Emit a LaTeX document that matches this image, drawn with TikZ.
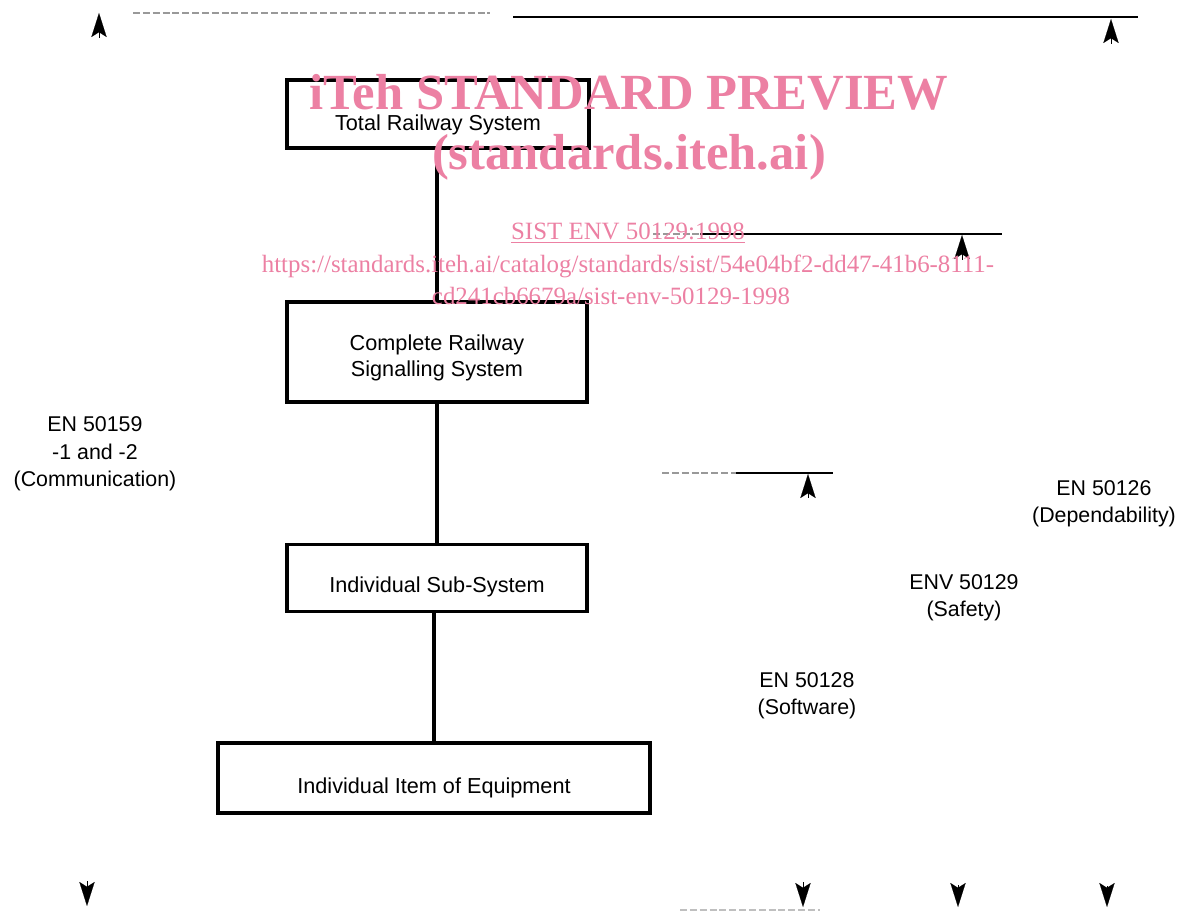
\documentclass[tikz,border=0pt]{standalone}
\usepackage{fontspec}
\setmainfont{Liberation Sans}
\newfontfamily\wmfont{Liberation Serif}
\usetikzlibrary{arrows.meta,positioning}
\definecolor{wmpink}{RGB}{236,128,163}
\newcommand\lowr[2][0.2cm]{\raisebox{-#1}[\height][\depth]{#2}}

\begin{document}
\begin{tikzpicture}[x=0.025cm, y=-0.025cm,
    sysbox/.style={draw, line width=2.6pt, inner sep=0pt, align=center,
      font=\fontsize{15.4}{18.4}\selectfont},
    stdlabel/.style={inner sep=0pt, align=center,
      font=\fontsize{15.2}{19.5}\selectfont},
    link/.style={line width=2.5pt},
    rangeline/.style={line width=1.3pt},
    faint/.style={line width=0.9pt, black!40, dash pattern=on 5pt off 2pt},
    tiphead/.style={line width=0.1pt,
      -{Stealth[length=0.6cm, width=0.38cm, inset=0.12cm]}},
    wmbig/.style={inner sep=0pt, anchor=base, text=wmpink,
      font=\wmfont\bfseries\fontsize{36}{40}\selectfont},
    wmsmall/.style={inner sep=0pt, anchor=base, text=wmpink,
      font=\wmfont\fontsize{17.7}{20}\selectfont}]
    \useasboundingbox (0,0) rectangle (1179,911);

    % system levels
    \node[sysbox, minimum width=7.55cm, minimum height=1.7cm] (total) at (438,114) {\lowr[0.27cm]{Total Railway System}};
    \node[sysbox, minimum width=7.5cm, minimum height=2.5cm] (complete) at (437,352) {\lowr[0.15cm]{Complete Railway}\\\lowr[0.15cm]{Signalling System}};
    \node[sysbox, minimum width=7.5cm, minimum height=1.675cm] (subsys) at (437,578) {\lowr[0.22cm]{Individual Sub-System}};
    \node[sysbox, minimum width=10.8cm, minimum height=1.75cm] (item) at (434,778) {\lowr[0.25cm]{Individual Item of Equipment}};

    \draw[link] (complete.north |- total.south) -- (complete.north);
    \draw[link] (complete.south) -- (subsys.north);
    \draw[link] (item.north |- subsys.south) -- (item.north);

    % standards
    \node[stdlabel] (comm) at (95,454) {EN 50159\\-1 and -2\\(Communication)};
    \node[stdlabel] (dep) at (1104,504) {EN 50126\\(Dependability)};
    \node[stdlabel] (safe) at (964,598) {ENV 50129\\(Safety)};
    \node[stdlabel] (soft) at (807,696) {EN 50128\\(Software)};

    % range lines
    \coordinate (commL) at (133,13);
    \coordinate (commR) at (490,13);
    \coordinate (depL) at (513,17);
    \coordinate (depR) at (1138,17);
    \coordinate (safeL) at (653,234);
    \coordinate (safeM) at (700,234);
    \coordinate (safeR) at (1002,234);
    \coordinate (softL) at (662,473);
    \coordinate (softM) at (736,473);
    \coordinate (softR) at (833,473);
    \coordinate (botL) at (680,910);
    \coordinate (botR) at (820,910);
    \draw[faint] (commL) -- (commR);
    \draw[rangeline] (depL) -- (depR);
    \draw[faint] (safeL) -- (safeM);
    \draw[rangeline] (safeM) -- (safeR);
    \draw[faint] (softL) -- (softM);
    \draw[rangeline] (softM) -- (softR);
    \draw[faint, black!25] (botL) -- (botR);

    % arrow heads
    \foreach \n/\x/\a/\b in {cu/99/38/13, du/1111/44/19, su/962/260/235, wu/808/498/474,
                             cd/87/881/906, wd/803/882/907, sd/958/885/907, dd/1107/886/907}{
      \coordinate (\n0) at (\x,\a);
      \coordinate (\n1) at (\x,\b);
      \draw[tiphead] (\n0) -- (\n1);
    }

    % watermark
    \node[wmbig] (wm1) at (629,110) {iTeh STANDARD PREVIEW};
    \node[wmbig] (wm2) at (629,170) {(standards.iteh.ai)};
    \node[wmsmall] (wm3) at (628,240) {\underline{SIST ENV 50129:1998}};
    \node[wmsmall] (wm4) at (628,273) {https://standards.iteh.ai/catalog/standards/sist/54e04bf2-dd47-41b6-8111-};
    \node[wmsmall] (wm5) at (611,305) {cd241cb6679a/sist-env-50129-1998};
\end{tikzpicture}
\end{document}
